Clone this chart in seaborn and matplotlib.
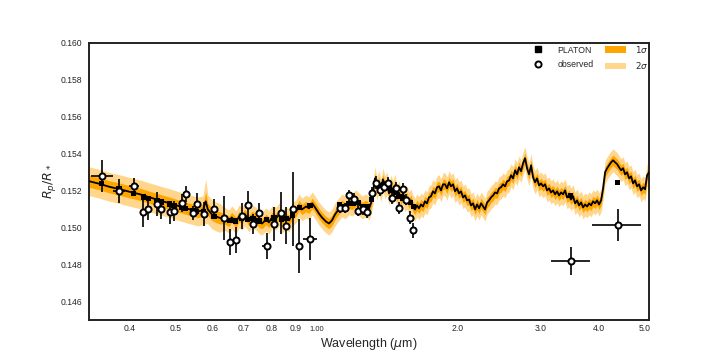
import numpy as np
import matplotlib
matplotlib.use('Agg')
import matplotlib.pyplot as plt
import seaborn as sns
from matplotlib.lines import Line2D
from matplotlib.patches import Patch

# model transmission spectrum
model_wl = [0.327, 0.345, 0.362, 0.381, 0.400, 0.420, 0.441, 0.463, 0.487, 0.511, 0.537, 0.558, 0.572, 0.580, 0.586, 0.598, 0.610, 0.622,
            0.634, 0.650, 0.659, 0.673, 0.683, 0.693, 0.703, 0.717, 0.728, 0.743, 0.754, 0.765, 0.780, 0.791, 0.803, 0.819, 0.831, 0.843,
            0.860, 0.873, 0.886, 0.903, 0.917, 0.930, 0.949, 0.963, 0.978, 0.992, 1.011, 1.026, 1.046, 1.062, 1.078, 1.094, 1.110, 1.132,
            1.149, 1.172, 1.190, 1.213, 1.231, 1.249, 1.274, 1.293,
            1.305, 1.318, 1.331, 1.344, 1.357, 1.371, 1.384, 1.398, 1.412, 1.426, 1.440, 1.454, 1.468, 1.483, 1.497, 1.512, 1.527, 1.542,
            1.557, 1.573, 1.588, 1.604, 1.620, 1.636, 1.652, 1.668, 1.685, 1.701, 1.718, 1.735, 1.752, 1.770, 1.787, 1.805, 1.823, 1.841,
            1.859, 1.877, 1.896, 1.915, 1.933, 1.953, 1.972, 1.991, 2.011, 2.031, 2.051, 2.071, 2.092, 2.112, 2.133, 2.154, 2.176, 2.197,
            2.219, 2.241, 2.263, 2.285, 2.308, 2.330, 2.353, 2.377, 2.400, 2.424, 2.448, 2.472, 2.496, 2.521, 2.546, 2.571, 2.596, 2.622,
            2.648, 2.674, 2.700, 2.727, 2.754, 2.781, 2.808, 2.836, 2.864, 2.892, 2.921, 2.949, 2.979, 3.008, 3.038, 3.068, 3.098, 3.129,
            3.159, 3.191, 3.222, 3.254, 3.286, 3.318, 3.351, 3.384, 3.418, 3.451, 3.485, 3.520, 3.555, 3.590, 3.625, 3.661, 3.697, 3.734,
            3.771, 3.808, 3.845, 3.883, 3.922, 3.960, 3.999, 4.039, 4.079, 4.119, 4.160, 4.201, 4.242, 4.284, 4.326, 4.369, 4.412, 4.456,
            4.500, 4.544, 4.588, 4.634, 4.679, 4.726, 4.772, 4.819, 4.867, 4.915, 4.963, 5.012, 5.062, 5.110]
model_rp = [0.15251, 0.15236, 0.15220, 0.15207, 0.15193, 0.15180, 0.15163, 0.15147, 0.15131, 0.15114, 0.15098, 0.15087, 0.15093,
            0.15142, 0.15098, 0.15071, 0.15060, 0.15052,
            0.15049, 0.15033, 0.15055, 0.15028, 0.15060, 0.15049, 0.15071, 0.15039, 0.15060, 0.15049, 0.15028, 0.15022, 0.15044,
            0.15028, 0.15055, 0.15049, 0.15071, 0.15033, 0.15049, 0.15039, 0.15071, 0.15087, 0.15120, 0.15098, 0.15114, 0.15104,
            0.15131, 0.15109, 0.15076, 0.15055, 0.15033, 0.15022, 0.15039, 0.15071, 0.15093, 0.15120, 0.15109, 0.15131, 0.15125,
            0.15142, 0.15125, 0.15109, 0.15120, 0.15104,
            0.15131, 0.15185, 0.15266, 0.15212, 0.15245, 0.15201, 0.15261, 0.15218, 0.15239, 0.15185, 0.15223, 0.15190, 0.15228,
            0.15169, 0.15190, 0.15152, 0.15185, 0.15147, 0.15163, 0.15131, 0.15147, 0.15114, 0.15098, 0.15120, 0.15104, 0.15125,
            0.15114, 0.15142, 0.15131, 0.15163, 0.15169, 0.15196, 0.15185, 0.15218, 0.15223, 0.15201, 0.15234, 0.15234, 0.15212,
            0.15245, 0.15223, 0.15234, 0.15196, 0.15212, 0.15185, 0.15196, 0.15163, 0.15174, 0.15147, 0.15152, 0.15120, 0.15131,
            0.15098, 0.15125, 0.15104, 0.15131, 0.15114, 0.15098, 0.15136, 0.15147, 0.15163, 0.15174, 0.15190, 0.15185, 0.15212,
            0.15218, 0.15234, 0.15223, 0.15250, 0.15255, 0.15283, 0.15266, 0.15310, 0.15288, 0.15326, 0.15305, 0.15348, 0.15375,
            0.15321, 0.15288, 0.15337, 0.15272, 0.15245, 0.15266, 0.15228, 0.15239, 0.15223, 0.15234, 0.15201, 0.15212, 0.15190,
            0.15201, 0.15180, 0.15196, 0.15174, 0.15190, 0.15180, 0.15201, 0.15163, 0.15174, 0.15152, 0.15169, 0.15131, 0.15147,
            0.15120, 0.15136, 0.15109, 0.15125, 0.15114, 0.15131, 0.15120, 0.15142, 0.15131, 0.15147, 0.15125, 0.15147, 0.15212,
            0.15299, 0.15321, 0.15337, 0.15353, 0.15364, 0.15353, 0.15343, 0.15326, 0.15310, 0.15321, 0.15288, 0.15299, 0.15266,
            0.15277, 0.15239, 0.15255, 0.15223, 0.15234, 0.15201, 0.15218, 0.15207, 0.15283, 0.15299]
# band half-widths: wide and smooth in the optical, narrower from ~0.62 um on
sig1 = [0.00033] * 13 + [0.00050] + [0.00033] * 4 + [0.00028] * 184
sig2 = [0.00078] * 13 + [0.00120] + [0.00078] * 4 + [0.00062] * 184

# observed transit depths
obs_wl = [0.348, 0.379, 0.407, 0.427, 0.4375, 0.4565, 0.4663, 0.486, 0.4963, 0.5155, 0.5256, 0.5447, 0.5547, 0.5741, 0.604,
          0.6335, 0.6532, 0.672, 0.692, 0.7128, 0.7312, 0.7534, 0.7822, 0.811, 0.8404, 0.8614, 0.8889, 0.9182, 0.9676, 1.1195,
          1.1472, 1.172, 1.199, 1.225, 1.2533, 1.2805, 1.3103, 1.3361, 1.3646, 1.3916, 1.419, 1.445, 1.4734, 1.4978, 1.5253,
          1.5524, 1.5834, 1.607, 3.48, 4.383]
obs_rp = [0.15279, 0.15200, 0.15225, 0.15082, 0.15102, 0.15126, 0.15100, 0.15082, 0.15089, 0.15135,
          0.15180, 0.15079, 0.15126, 0.15075, 0.15102, 0.15051, 0.14924, 0.14931, 0.15064, 0.15120,
          0.15019, 0.15081, 0.14900, 0.15019, 0.15079, 0.15010, 0.15102, 0.14902, 0.14936, 0.15108,
          0.15108, 0.15175, 0.15157, 0.15092, 0.15100, 0.15082, 0.15187, 0.15243, 0.15202, 0.15220,
          0.15241, 0.15160, 0.15216, 0.15106, 0.15209, 0.15151, 0.15054, 0.14985, 0.14817, 0.15016]
obs_err = [0.00087, 0.00065, 0.00043, 0.00080, 0.00060, 0.00065, 0.00054, 0.00060, 0.00054, 0.00049,
           0.00043, 0.00040, 0.00060, 0.00065, 0.00054, 0.00120, 0.00070, 0.00070, 0.00070, 0.00076,
           0.00054, 0.00054, 0.00068, 0.00092, 0.00114, 0.00100, 0.00200, 0.00146, 0.00114, 0.00027,
           0.00027, 0.00030, 0.00030, 0.00030, 0.00030, 0.00030, 0.00030, 0.00035, 0.00030, 0.00030,
           0.00030, 0.00030, 0.00030, 0.00030, 0.00030, 0.00030, 0.00035, 0.00040, 0.00076, 0.00087]
obs_xlo = [0.018, 0.012, 0.010, 0, 0, 0, 0, 0, 0, 0,
           0, 0, 0, 0, 0, 0, 0, 0, 0, 0,
           0, 0, 0.0195, 0, 0, 0, 0, 0, 0.033, 0,
           0, 0, 0, 0, 0, 0, 0, 0, 0, 0,
           0, 0, 0, 0, 0, 0, 0, 0, 0.325, 0.514]
obs_xhi = [0.019, 0.012, 0.010, 0, 0, 0, 0, 0, 0, 0,
           0, 0, 0, 0, 0, 0, 0, 0, 0, 0,
           0, 0, 0.016, 0, 0, 0, 0, 0, 0.034, 0,
           0, 0, 0, 0, 0, 0, 0, 0, 0, 0,
           0, 0, 0, 0, 0, 0, 0, 0, 0.341, 0.524]

# PLATON model binned to the observed channels
platon_rp = [0.15238, 0.15210, 0.15183, 0.15165, 0.15158, 0.15145, 0.15138, 0.15127, 0.15120, 0.15108,
             0.15103, 0.15092, 0.15086, 0.15085, 0.15062, 0.15050, 0.15040, 0.15035, 0.15052, 0.15045,
             0.15050, 0.15035, 0.15045, 0.15052, 0.15045, 0.15050, 0.15068, 0.15110, 0.15120, 0.15125,
             0.15112, 0.15130, 0.15132, 0.15135, 0.15112, 0.15115, 0.15150, 0.15240, 0.15225, 0.15230,
             0.15215, 0.15200, 0.15190, 0.15170, 0.15160, 0.15150, 0.15135, 0.15115, 0.15175, 0.15243]

xtick_minor = [0.4, 0.5, 0.6, 0.7, 0.8, 0.9, 2.0, 3.0, 4.0, 5.0]
xtick_minor_labels = ['0.4', '0.5', '0.6', '0.7', '0.8', '0.9', '2.0', '3.0', '4.0', '5.0']
yticks = [0.146, 0.148, 0.150, 0.152, 0.154, 0.156, 0.158, 0.160]

sns.set_style('white')
plt.rcParams['font.family'] = ['Liberation Sans', 'DejaVu Sans']

c1 = '#ffa500'
c2 = '#ffd68c'

fig = plt.figure(figsize=(7.2, 3.6), dpi=100)
ax = fig.add_axes([0.1236, 0.1111, 0.7778, 0.7703])

m = np.array(model_rp)
s1 = np.array(sig1)
s2 = np.array(sig2)
ax.fill_between(model_wl, m - s2, m + s2, color=c2, lw=0, zorder=1)
ax.fill_between(model_wl, m - s1, m + s1, color=c1, lw=0, zorder=2)
sns.lineplot(x=model_wl, y=model_rp, color='black', lw=1.3, sort=False, estimator=None, ax=ax, zorder=3)
sns.scatterplot(x=obs_wl, y=platon_rp, marker='s', s=14, color='black', edgecolor='none', ax=ax, zorder=4)
ax.errorbar(obs_wl, obs_rp, yerr=obs_err, xerr=[obs_xlo, obs_xhi], fmt='o', mfc='white', mec='black',
            mew=1.4, ms=4.4, ecolor='black', elinewidth=1.2, capsize=0, zorder=5)

ax.set_xscale('log')
ax.set_xlim(0.327, 5.11)
ax.set_ylim(0.145, 0.160)
ax.set_xticks([1.0])
ax.set_xticklabels(['1.00'])
ax.set_xticks(xtick_minor, minor=True)
ax.set_xticklabels(xtick_minor_labels, minor=True)
ax.set_yticks(yticks)
ax.set_yticklabels([f'{v:.3f}' for v in yticks])
ax.tick_params(axis='x', which='major', labelsize=5.4, length=0, pad=4.5)
ax.tick_params(axis='x', which='minor', labelsize=6.2, length=0, pad=3)
ax.tick_params(axis='y', labelsize=6.2, length=0, pad=5)
for sp in ax.spines.values():
    sp.set_color('#222222')
    sp.set_linewidth(1.4)

ax.set_xlabel(r'Wavelength ($\mu$m)', fontsize=9, labelpad=2)
ax.set_ylabel(r'$R_p/R_*$', fontsize=9, labelpad=1.5)

handles = [Line2D([], [], ls='none', marker='s', ms=3.8, color='black'),
           Line2D([], [], ls='none', marker='o', ms=4.4, mfc='white', mec='black', mew=1.4),
           Patch(color=c1, lw=0), Patch(color=c2, lw=0)]
ax.legend(handles, ['PLATON', 'observed', r'$1\sigma$', r'$2\sigma$'], ncol=2, frameon=False,
          loc='upper right', bbox_to_anchor=(1.012, 1.025), fontsize=6.3, handlelength=2.4,
          handleheight=0.8, columnspacing=1.3, labelspacing=0.6, handletextpad=1.0)

fig.savefig('out.png', dpi=100)
